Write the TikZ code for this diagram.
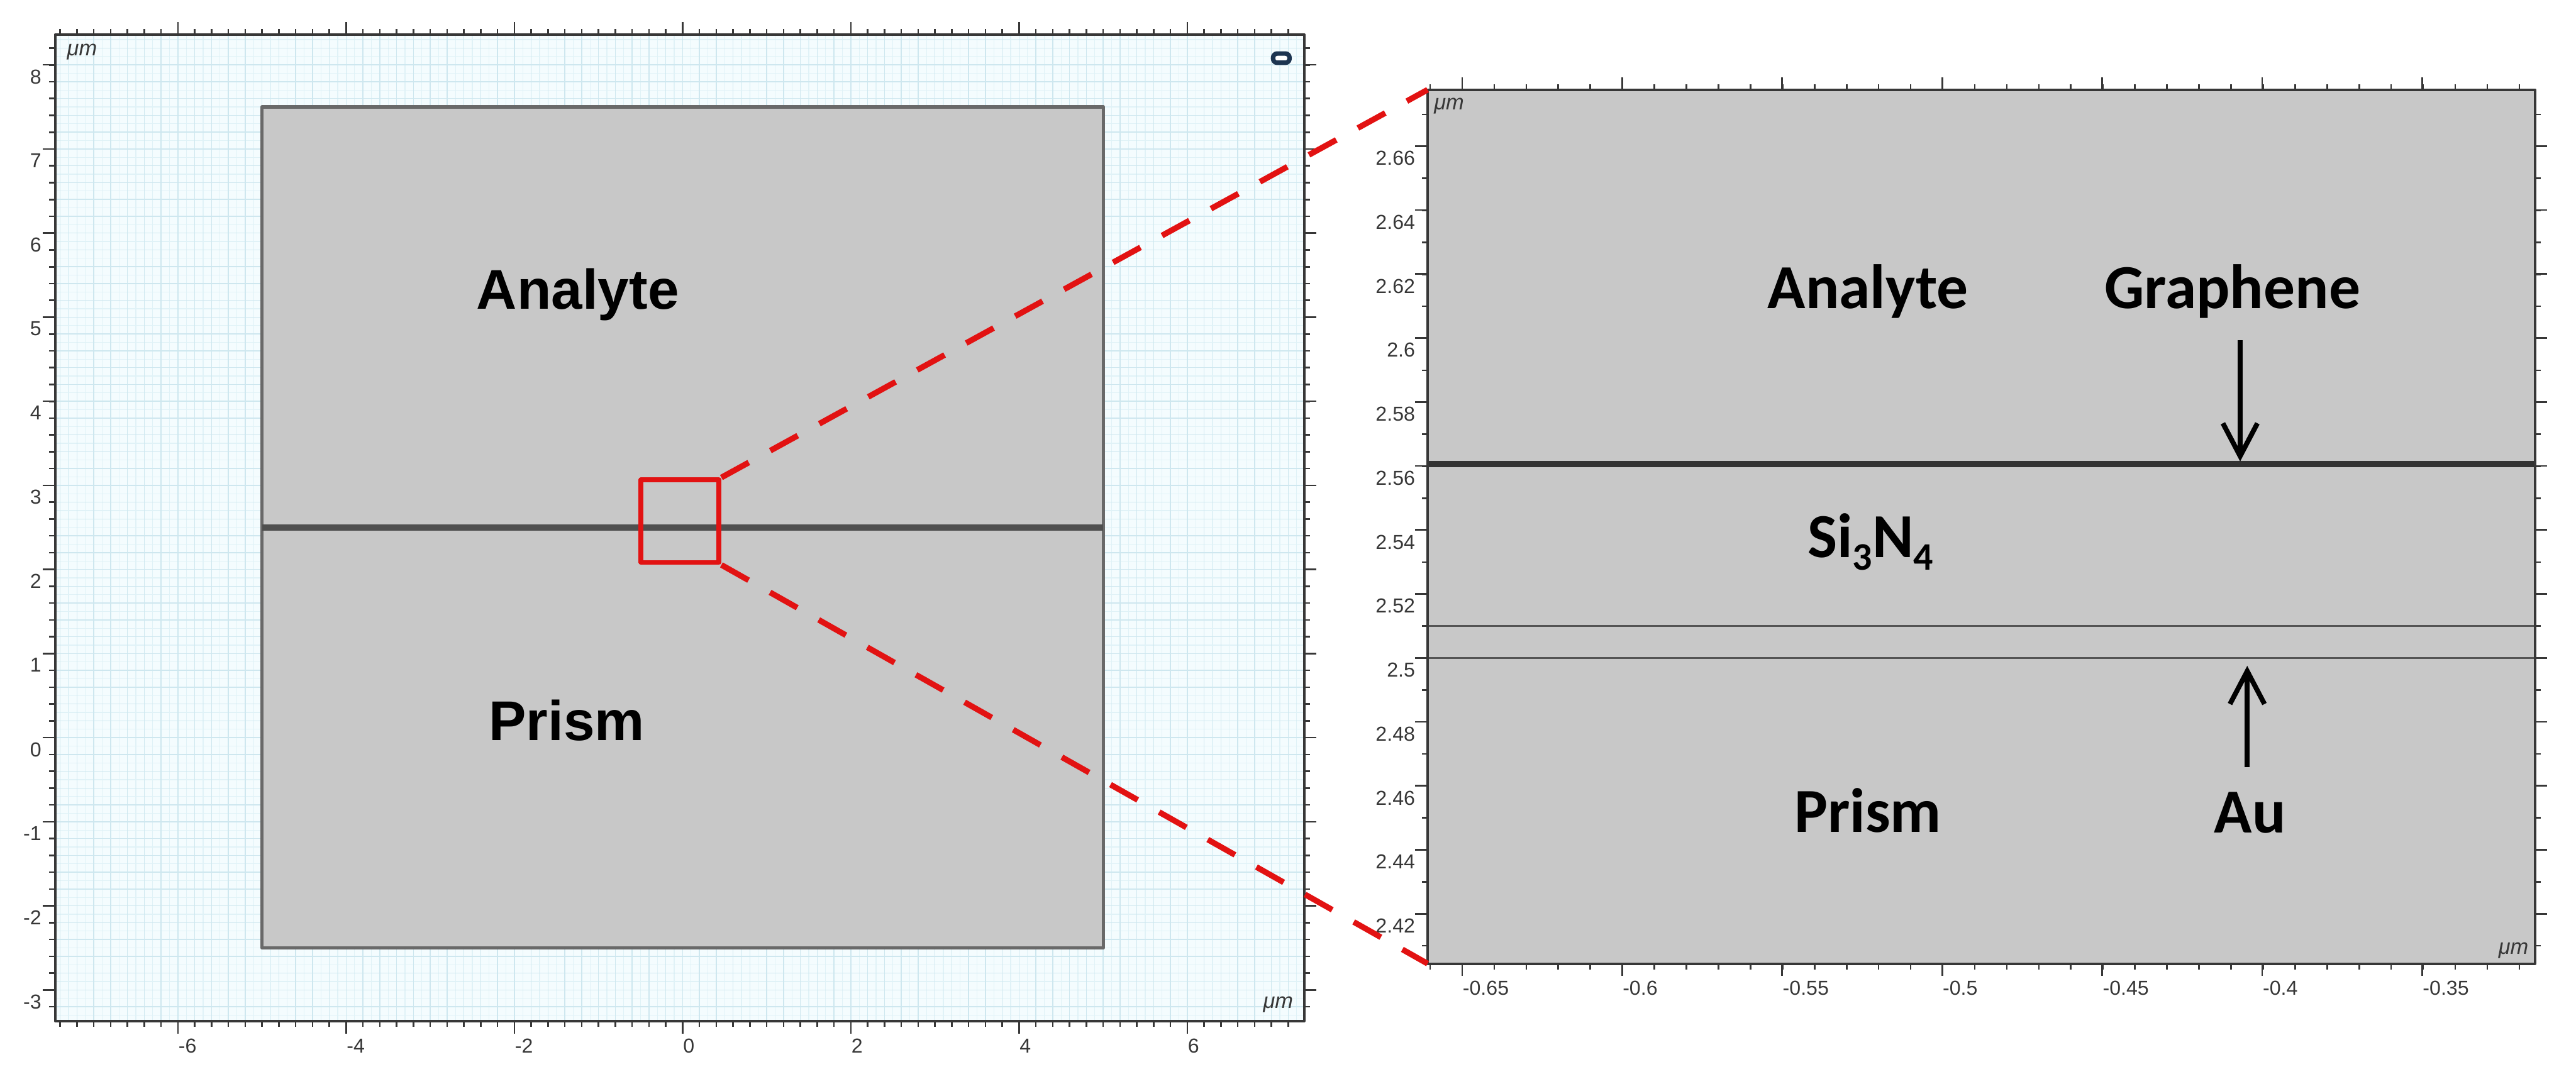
\documentclass[tikz,border=0pt]{standalone}
\usepackage{fontspec}
\setmainfont{Liberation Sans}
\newfontfamily\calfont{Carlito}
\usetikzlibrary{arrows.meta}
\definecolor{layergray}{RGB}{200,200,200}
\definecolor{gridcyan}{RGB}{206,231,239}
\definecolor{finecyan}{RGB}{224,242,247}
\definecolor{bgcyan}{RGB}{244,252,254}
\definecolor{edgegray}{RGB}{105,105,105}
\definecolor{axisgray}{RGB}{55,55,55}
\definecolor{zoomred}{RGB}{226,18,18}
\definecolor{iconblue}{RGB}{28,52,80}

\begin{document}
\begin{tikzpicture}[line join=round,
    frameline/.style={axisgray,line width=0.03cm},
    tickmark/.style={axisgray,line width=0.02cm},
    gridline/.style={gridcyan,line width=0.012cm},
    fineline/.style={finecyan,line width=0.01cm},
    ticklab/.style={inner sep=0pt,text=axisgray,font=\fontsize{7}{8}\selectfont},
    unitlab/.style={inner sep=0pt,text=axisgray,font=\fontsize{7.5}{8}\selectfont\itshape},
    leftlab/.style={anchor=base,inner sep=0pt,font=\fontsize{19.4}{22}\selectfont\bfseries},
    rightlab/.style={anchor=base,inner sep=0pt,font=\calfont\bfseries\fontsize{21.7}{24}\selectfont},
    thinlayer/.style={edgegray!80!black,line width=0.025cm},
    zoomline/.style={zoomred,line width=0.07cm,dash pattern=on 0.38cm off 0.3cm},
    pointer/.style={line width=0.06cm,-{Straight Barb[length=0.4cm,width=0.42cm]}}]
  \useasboundingbox (0,0) rectangle (31.36,13.132);
  \begin{scope}[shift={(8.31cm,4.15cm)},x=1.024cm,y=1.024cm]
    \fill[bgcyan] (-7.46,-3.37) rectangle (7.39,8.36);
    \foreach \gx in {-7.3,-7.1,...,7.35} \draw[fineline] (\gx,-3.37)--(\gx,8.36);
    \foreach \gy in {-3.3,-3.1,...,8.35} \draw[fineline] (-7.46,\gy)--(7.39,\gy);
    \foreach \gx in {-7.4,-7.2,...,7.3} \draw[gridline] (\gx,-3.37)--(\gx,8.36);
    \foreach \gy in {-3.2,-3,...,8.3} \draw[gridline] (-7.46,\gy)--(7.39,\gy);
    \filldraw[fill=layergray,draw=edgegray,line width=0.04cm] (-5,-2.5) rectangle (5,7.5);
    \draw[edgegray!75!black,line width=0.075cm] (-5,2.5)--(5,2.5);
    \draw[frameline] (-7.46,-3.37) rectangle (7.39,8.36);
    \foreach \x in {-7.4,-7.2,...,7.3} {
      \draw[tickmark] (\x,-3.37)--++(0pt,-0.07cm);
      \draw[tickmark] (\x,8.36)--++(0pt,0.07cm);
    }
    \foreach \y in {-3.2,-3,...,8.3} {
      \draw[tickmark] (-7.46,\y)--++(-0.07cm,0pt);
      \draw[tickmark] (7.39,\y)--++(0.07cm,0pt);
    }
    \foreach \x [count=\i] in {-6,-4,...,6} {
      \draw[tickmark] (\x,-3.37)--++(0pt,-0.15cm);
      \draw[tickmark] (\x,8.36)--++(0pt,0.15cm);
      \node[ticklab,anchor=north west] (lpx\i) at ([yshift=-0.21cm]\x,-3.37) {\x};
    }
    \foreach \y [count=\i] in {-3,...,8} {
      \draw[tickmark] (-7.46,\y)--++(-0.15cm,0pt);
      \draw[tickmark] (7.39,\y)--++(0.15cm,0pt);
      \node[ticklab,anchor=north east] (lpy\i) at ([xshift=-0.16cm,yshift=-0.05cm]-7.46,\y) {\y};
    }
    \node[unitlab] (lpunittop) at (-7.14,8.154) {μm};
    \node[unitlab] (lpunitbot) at (7.08,-3.174) {μm};
    \filldraw[draw=iconblue,fill=white,line width=0.055cm,rounded corners=0.05cm]
      (7.02,8.025) rectangle (7.215,8.135);
    \node[leftlab] (lpanalyte) at (-1.246,5.10) {Analyte};
    \node[leftlab] (lpprism) at (-1.377,-0.03) {Prism};
    \node[draw=zoomred,line width=0.06cm,minimum width=0.948cm,minimum height=1.004cm,
      inner sep=0pt] (zoomsq) at (-0.031,2.574) {};
  \end{scope}
  \begin{scope}[shift={(43.124cm,-92.253cm)},x=38.96cm,y=38.95cm]
    \fill[layergray] (-0.6608,2.4044) rectangle (-0.3148,2.6776);
    \draw[thinlayer] (-0.6608,2.5)--(-0.3148,2.5);
    \draw[thinlayer] (-0.6608,2.51)--(-0.3148,2.51);
    \draw[black!80,line width=0.07cm] (-0.6608,2.5606)--(-0.3148,2.5606);
    \draw[frameline] (-0.6608,2.4044) rectangle (-0.3148,2.6776);
    \coordinate (rpnw) at (-0.6608,2.6776);
    \coordinate (rpsw) at (-0.6608,2.4044);
    \foreach \x in {-0.66,-0.65,...,-0.315} {
      \draw[tickmark] (\x,2.4044)--++(0pt,-0.07cm);
      \draw[tickmark] (\x,2.6776)--++(0pt,0.07cm);
    }
    \foreach \y in {2.41,2.42,...,2.675} {
      \draw[tickmark] (-0.6608,\y)--++(-0.07cm,0pt);
      \draw[tickmark] (-0.3148,\y)--++(0.07cm,0pt);
    }
    \foreach \x [count=\i] in {-0.65,-0.6,-0.55,-0.5,-0.45,-0.4,-0.35} {
      \draw[tickmark] (\x,2.4044)--++(0pt,-0.15cm);
      \draw[tickmark] (\x,2.6776)--++(0pt,0.15cm);
      \node[ticklab,anchor=north west] (rpx\i) at ([yshift=-0.2cm]\x,2.4044) {\x};
    }
    \foreach \y [count=\i] in {2.42,2.44,2.46,2.48,2.5,2.52,2.54,2.56,2.58,2.6,2.62,2.64,2.66} {
      \draw[tickmark] (-0.6608,\y)--++(-0.15cm,0pt);
      \draw[tickmark] (-0.3148,\y)--++(0.15cm,0pt);
      \node[ticklab,anchor=north east] (rpy\i) at ([xshift=-0.146cm,yshift=-0.055cm]-0.6608,\y) {\y};
    }
    \node[unitlab] (rpunittop) at (-0.6541,2.6725) {μm};
    \node[unitlab] (rpunitbot) at (-0.3215,2.4086) {μm};
    \node[rightlab] (rpanalyte) at (-0.5232,2.6093) {Analyte};
    \node[rightlab] (graphene) at (-0.4093,2.6092) {Graphene};
    \node[rightlab] (sin) at (-0.5224,2.5314) {Si\raisebox{-0.2em}{\fontsize{13.5}{14}\selectfont 3}N\raisebox{-0.2em}{\fontsize{13.5}{14}\selectfont 4}};
    \node[rightlab] (rpprism) at (-0.5232,2.4455) {Prism};
    \node[rightlab] (au) at (-0.4038,2.4453) {Au};
    \coordinate (grtip) at (-0.4069,2.5614);
    \coordinate (autip) at (-0.4047,2.4975);
    \draw[pointer,shorten <=0.26cm] (graphene.south -| grtip) -- (grtip);
    \draw[pointer,shorten <=0.3cm] (au.north -| autip) -- (autip);
  \end{scope}
  \draw[zoomline] (zoomsq.north east) -- (rpnw);
  \draw[zoomline] (zoomsq.south east) -- (rpsw);
\end{tikzpicture}
\end{document}
